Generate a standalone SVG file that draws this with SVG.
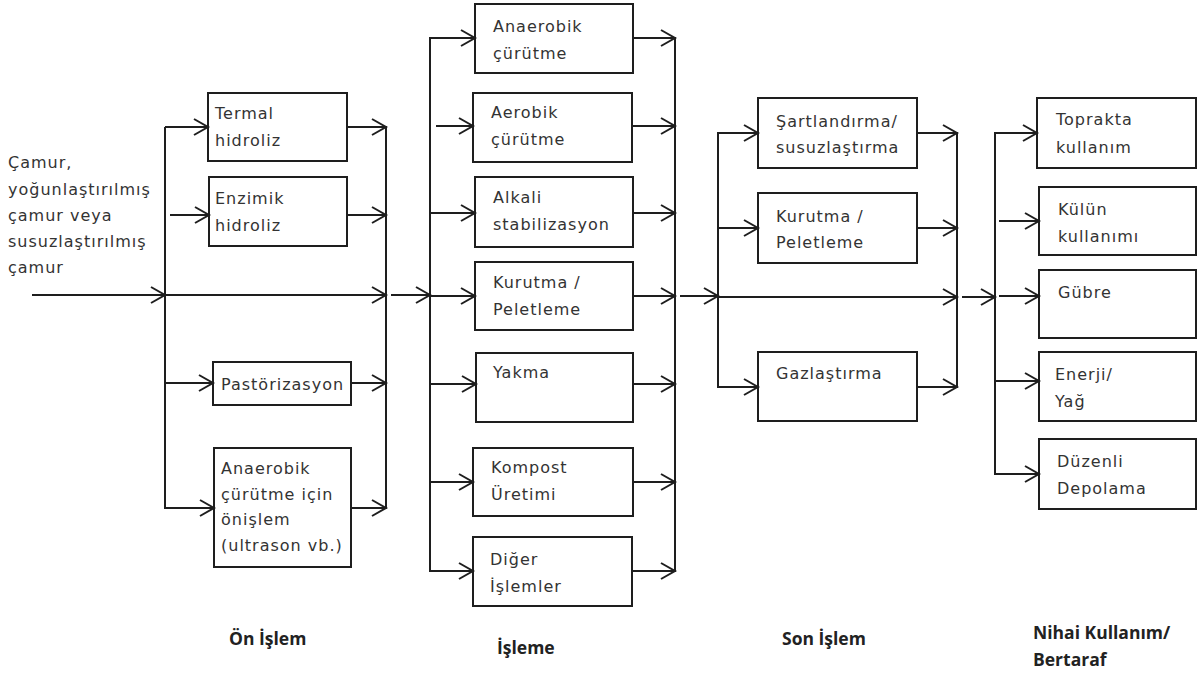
<svg xmlns="http://www.w3.org/2000/svg" width="1198" height="675" viewBox="0 0 1198 675">
<style>
.box{fill:#fff;stroke:#1e1e1e;stroke-width:2}
.t{font-family:"DejaVu Sans",Verdana,sans-serif;font-size:16px;letter-spacing:1px;fill:#333}
.h{font-family:"Open Sans","Liberation Sans",sans-serif;font-size:17.5px;font-weight:700;fill:#222}
.c line{stroke:#1e1e1e;stroke-width:2;fill:none}
.a{marker-end:url(#arr)}
</style>
<defs>
<marker id="arr" markerUnits="userSpaceOnUse" markerWidth="18" markerHeight="22" viewBox="0 0 18 22" refX="16" refY="11" orient="auto" overflow="visible">
<path d="M2,3 L16,11 L2,19" fill="none" stroke="#1e1e1e" stroke-width="2"/>
</marker>
</defs>
<rect width="1198" height="675" fill="#fff"/>

<g id="input">
<text class="t" x="8" y="168">Çamur,</text>
<text class="t" x="8" y="195">yoğunlaştırılmış</text>
<text class="t" x="8" y="221">çamur veya</text>
<text class="t" x="8" y="247">susuzlaştırılmış</text>
<text class="t" x="8" y="273">çamur</text>
</g>

<g id="termal"><rect class="box" x="208" y="93" width="139" height="68"/><text class="t" x="215" y="119">Termal</text><text class="t" x="215" y="146">hidroliz</text></g>
<g id="enzimik"><rect class="box" x="209" y="177" width="138" height="69"/><text class="t" x="215" y="204">Enzimik</text><text class="t" x="215" y="231">hidroliz</text></g>
<g id="pastorizasyon"><rect class="box" x="213" y="362" width="138" height="43"/><text class="t" x="221" y="390">Pastörizasyon</text></g>
<g id="onislem"><rect class="box" x="214" y="448" width="137" height="119"/><text class="t" x="221" y="474">Anaerobik</text><text class="t" x="221" y="500">çürütme için</text><text class="t" x="221" y="525">önişlem</text><text class="t" x="221" y="551">(ultrason vb.)</text></g>

<g id="anaerobik"><rect class="box" x="475" y="4" width="158" height="69"/><text class="t" x="493" y="32">Anaerobik</text><text class="t" x="493" y="59">çürütme</text></g>
<g id="aerobik"><rect class="box" x="473" y="93" width="159" height="69"/><text class="t" x="491" y="118">Aerobik</text><text class="t" x="491" y="145">çürütme</text></g>
<g id="alkali"><rect class="box" x="475" y="177" width="158" height="70"/><text class="t" x="493" y="203">Alkali</text><text class="t" x="493" y="230">stabilizasyon</text></g>
<g id="kurutma1"><rect class="box" x="475" y="262" width="158" height="68"/><text class="t" x="493" y="288">Kurutma /</text><text class="t" x="493" y="315">Peletleme</text></g>
<g id="yakma"><rect class="box" x="476" y="353" width="157" height="69"/><text class="t" x="493" y="378">Yakma</text></g>
<g id="kompost"><rect class="box" x="473" y="448" width="160" height="68"/><text class="t" x="491" y="473">Kompost</text><text class="t" x="491" y="500">Üretimi</text></g>
<g id="diger"><rect class="box" x="473" y="537" width="159" height="69"/><text class="t" x="490" y="565">Diğer</text><text class="t" x="490" y="592">İşlemler</text></g>

<g id="sartlandirma"><rect class="box" x="758" y="98" width="159" height="70"/><text class="t" x="776" y="127">Şartlandırma/</text><text class="t" x="776" y="153">susuzlaştırma</text></g>
<g id="kurutma2"><rect class="box" x="758" y="193" width="159" height="70"/><text class="t" x="776" y="222">Kurutma /</text><text class="t" x="776" y="248">Peletleme</text></g>
<g id="gazlastirma"><rect class="box" x="758" y="352" width="159" height="69"/><text class="t" x="776" y="379">Gazlaştırma</text></g>

<g id="toprakta"><rect class="box" x="1037" y="98" width="159" height="70"/><text class="t" x="1056" y="125">Toprakta</text><text class="t" x="1056" y="153">kullanım</text></g>
<g id="kulun"><rect class="box" x="1039" y="187" width="157" height="68"/><text class="t" x="1058" y="215">Külün</text><text class="t" x="1058" y="242">kullanımı</text></g>
<g id="gubre"><rect class="box" x="1039" y="270" width="157" height="68"/><text class="t" x="1058" y="298">Gübre</text></g>
<g id="enerji"><rect class="box" x="1039" y="352" width="157" height="69"/><text class="t" x="1055" y="380">Enerji/</text><text class="t" x="1055" y="407">Yağ</text></g>
<g id="duzenli"><rect class="box" x="1039" y="439" width="157" height="70"/><text class="t" x="1057" y="467">Düzenli</text><text class="t" x="1057" y="494">Depolama</text></g>

<g id="labels">
<text class="h" x="229" y="645">Ön İşlem</text>
<text class="h" x="497" y="654">İşleme</text>
<text class="h" x="782" y="645">Son İşlem</text>
<text class="h" x="1033" y="639">Nihai Kullanım/</text>
<text class="h" x="1033" y="666">Bertaraf</text>
</g>

<g id="connectors" class="c">
<line class="a" x1="32" y1="295" x2="165" y2="295"/>
<line x1="165" y1="127" x2="165" y2="509"/>
<line class="a" x1="165" y1="127" x2="208" y2="127"/>
<line class="a" x1="170" y1="215" x2="209" y2="215"/>
<line class="a" x1="165" y1="383" x2="213" y2="383"/>
<line class="a" x1="165" y1="508" x2="214" y2="508"/>
<line class="a" x1="165" y1="295" x2="386" y2="295"/>
<line class="a" x1="347" y1="127" x2="386" y2="127"/>
<line class="a" x1="347" y1="215" x2="386" y2="215"/>
<line class="a" x1="351" y1="383" x2="386" y2="383"/>
<line class="a" x1="351" y1="508" x2="386" y2="508"/>
<line x1="386" y1="126" x2="386" y2="509"/>
<line class="a" x1="391" y1="295" x2="430" y2="295"/>

<line x1="430" y1="37" x2="430" y2="572"/>
<line class="a" x1="430" y1="38" x2="475" y2="38"/>
<line class="a" x1="436" y1="126" x2="473" y2="126"/>
<line class="a" x1="430" y1="213" x2="475" y2="213"/>
<line class="a" x1="430" y1="296" x2="475" y2="296"/>
<line class="a" x1="430" y1="384" x2="476" y2="384"/>
<line class="a" x1="430" y1="482" x2="473" y2="482"/>
<line class="a" x1="430" y1="571" x2="473" y2="571"/>
<line class="a" x1="633" y1="38" x2="675" y2="38"/>
<line class="a" x1="632" y1="126" x2="675" y2="126"/>
<line class="a" x1="633" y1="213" x2="675" y2="213"/>
<line class="a" x1="633" y1="296" x2="675" y2="296"/>
<line class="a" x1="633" y1="384" x2="675" y2="384"/>
<line class="a" x1="633" y1="482" x2="675" y2="482"/>
<line class="a" x1="632" y1="571" x2="675" y2="571"/>
<line x1="675" y1="37" x2="675" y2="572"/>
<line class="a" x1="680" y1="296" x2="718" y2="296"/>

<line x1="718" y1="132" x2="718" y2="388"/>
<line class="a" x1="718" y1="133" x2="758" y2="133"/>
<line class="a" x1="718" y1="228" x2="758" y2="228"/>
<line class="a" x1="718" y1="387" x2="758" y2="387"/>
<line class="a" x1="718" y1="297" x2="957" y2="297"/>
<line class="a" x1="917" y1="133" x2="957" y2="133"/>
<line class="a" x1="917" y1="228" x2="957" y2="228"/>
<line class="a" x1="917" y1="387" x2="957" y2="387"/>
<line x1="957" y1="132" x2="957" y2="388"/>
<line class="a" x1="962" y1="297" x2="995" y2="297"/>

<line x1="995" y1="132" x2="995" y2="475"/>
<line class="a" x1="995" y1="133" x2="1037" y2="133"/>
<line class="a" x1="999" y1="221" x2="1039" y2="221"/>
<line class="a" x1="999" y1="296" x2="1039" y2="296"/>
<line class="a" x1="995" y1="381" x2="1039" y2="381"/>
<line class="a" x1="995" y1="474" x2="1039" y2="474"/>
</g>
</svg>
